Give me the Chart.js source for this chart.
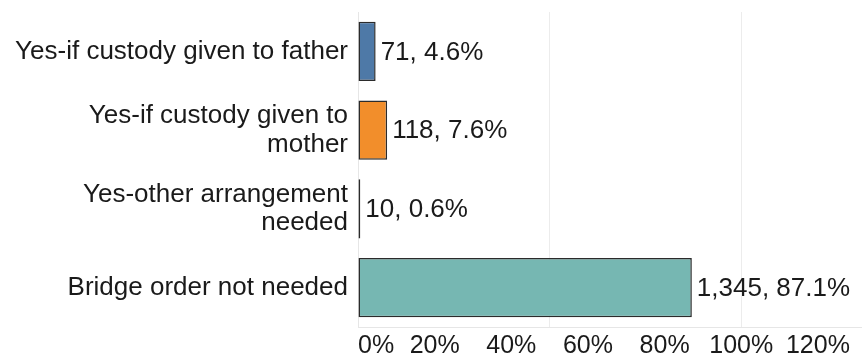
<!DOCTYPE html>
<html>
<head>
<meta charset="utf-8">
<script src="https://cdn.jsdelivr.net/npm/chart.js@4"></script>
<style>
  body { margin: 0; background: #fff; }
  #wrap { width: 862px; height: 362px; position: relative; }
</style>
</head>
<body>
<div id="wrap"><canvas id="chart"></canvas></div>
<script>
// data
let categories = [
  "Yes-if custody given to father",
  ["Yes-if custody given to", "mother"],
  ["Yes-other arrangement", "needed"],
  "Bridge order not needed"
];
let counts = [71, 118, 10, 1345];
let percents = [4.6, 7.6, 0.6, 87.1];
let tickValues = [0, 20, 40, 60, 80, 100, 120];
let gridValues = [50, 100];
let barColors = ["#4e79a7", "#f28e2b", "#e15759", "#76b7b2"];

const FONT = "'Liberation Sans', Arial, sans-serif";

// value labels at the end of each bar
const valueLabels = {
  id: "valueLabels",
  afterDatasetsDraw(chart) {
    let ctx = chart.ctx;
    let meta = chart.getDatasetMeta(0);
    ctx.save();
    ctx.font = "26px " + FONT;
    ctx.fillStyle = "#1a1a1a";
    ctx.textAlign = "left";
    ctx.textBaseline = "middle";
    meta.data.forEach((bar, i) => {
      let txt = counts[i].toLocaleString("en-US") + ", " + percents[i].toFixed(1) + "%";
      ctx.fillText(txt, bar.x + 5, bar.y + 1);
    });
    ctx.restore();
  }
};

let ctx = document.getElementById("chart");
let chart = new Chart(ctx, {
  type: "bar",
  data: {
    labels: categories,
    datasets: [{
      data: percents,
      backgroundColor: barColors,
      borderColor: "#2b2b2b",
      borderWidth: 1.5,
      borderSkipped: false,
      barPercentage: 0.75,
      categoryPercentage: 1
    }]
  },
  options: {
    indexAxis: "y",
    responsive: true,
    maintainAspectRatio: false,
    animation: false,
    events: [],
    layout: { padding: { top: 12, right: 0, bottom: 0, left: 0 } },
    plugins: {
      legend: { display: false },
      tooltip: { enabled: false }
    },
    scales: {
      x: {
        min: 0,
        max: 131.5,
        afterBuildTicks(scale) {
          let vals = tickValues.concat(gridValues).filter((v, i, a) => a.indexOf(v) === i);
          vals.push(131.5);
          vals.sort((a, b) => a - b);
          scale.ticks = vals.map(v => ({ value: v }));
        },
        afterFit(scale) {
          scale.height = 35;
          scale.paddingLeft = 0;
          scale.paddingRight = 0;
        },
        border: { color: "#e6e6e6", width: 1 },
        grid: {
          drawTicks: false,
          color: c => (c.tick && gridValues.includes(c.tick.value)) ? "#ececec" : "rgba(0,0,0,0)"
        },
        ticks: {
          autoSkip: false,
          maxRotation: 0,
          align: "inner",
          padding: 4,
          color: "#1a1a1a",
          font: { family: FONT, size: 25 },
          callback: v => tickValues.includes(v) ? v + "%" : ""
        }
      },
      y: {
        afterFit(scale) {
          scale.width = 358;
          scale.paddingTop = 0;
          scale.paddingBottom = 0;
        },
        border: { color: "#e6e6e6", width: 1 },
        grid: { display: false, drawTicks: false },
        ticks: {
          padding: 10,
          color: "#1a1a1a",
          font: { family: FONT, size: 26, lineHeight: 1.1 }
        }
      }
    }
  },
  plugins: [valueLabels]
});
</script>
</body>
</html>
